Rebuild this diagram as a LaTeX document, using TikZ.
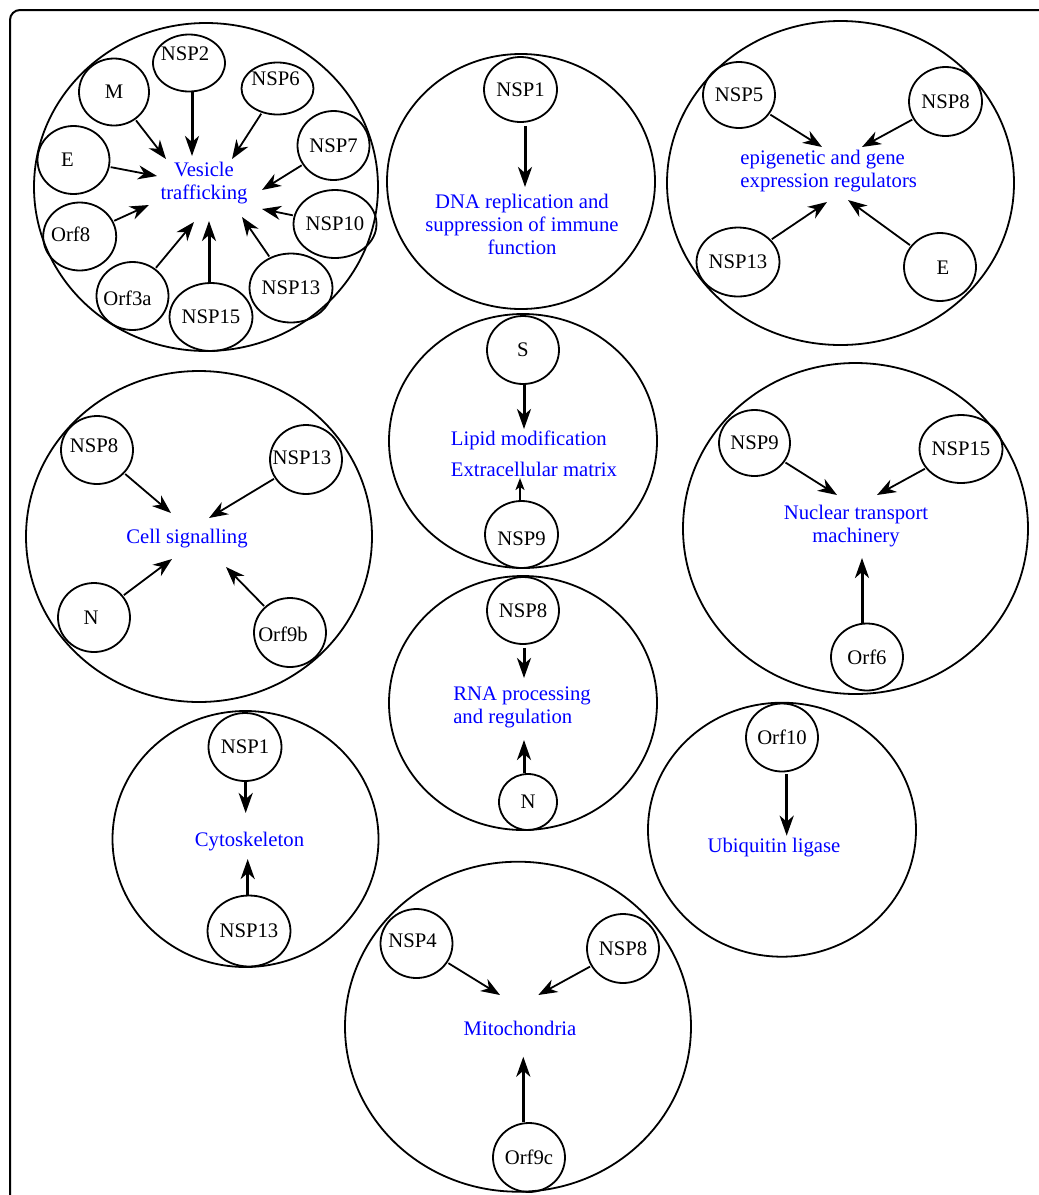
\documentclass[tikz,border=0pt]{standalone}
\usepackage{fontspec}
\setmainfont{Liberation Serif}
\usetikzlibrary{arrows.meta,shapes.geometric}
\newcommand{\myfs}{\fontsize{20.7pt}{23pt}\selectfont}
\begin{document}
\begin{tikzpicture}[x=1pt,y=-1pt,font=\myfs,
  grp/.style={draw, ellipse, line width=1.8pt, inner sep=0pt},
  prot/.style={draw, ellipse, line width=1.8pt, inner sep=0pt, minimum width=72pt, minimum height=68pt},
  lbl/.style={text=blue, inner sep=0pt},
  arr/.style={line width=1.8pt, shorten <=1pt, -{Stealth[length=19pt,width=14pt,inset=6pt]}},
  barr/.style={line width=3pt, -{Stealth[length=20pt,width=14pt,inset=6pt]}},
  sarr/.style={line width=1.8pt, -{Stealth[length=12pt,width=9pt,inset=3pt]}},
]
\useasboundingbox (0,0) rectangle (1039,1195);
\draw[line width=2pt, rounded corners=10pt] (10,1210) -- (10,10) -- (1060,10);

% ---------- Vesicle trafficking
\node[grp, minimum width=344pt, minimum height=328pt] (g1) at (206,187) {};
\node[prot, minimum width=70pt, minimum height=67pt] (m) at (114,92) {M};
\node[prot, minimum height=57pt, label={[shift={(-4,-9)}]center:NSP2}] (nsp2) at (189,63) {};
\node[prot, minimum height=52pt, label={[shift={(-2,-10)}]center:NSP6}] (nsp6) at (277.5,88.5) {};
\node[prot, minimum height=69pt] (nsp7) at (333.5,145.5) {NSP7};
\node[prot, label={[shift={(-6,0)}]center:E}] (e1) at (73.5,160) {};
\node[prot, minimum width=73pt, label={[shift={(-9,-2)}]center:Orf8}] (orf8) at (79.7,236.5) {};
\node[prot] (nsp10) at (335,224) {NSP10};
\node[prot, minimum width=71pt, minimum height=69pt] (nsp13a) at (291,288) {NSP13};
\node[prot, label={[shift={(-5,2)}]center:Orf3a}] (orf3a) at (132.5,296) {};
\node[prot] (nsp15a) at (211,317) {NSP15};
\node[lbl, align=center] (l1) at (204,183) {Vesicle\\trafficking};
\coordinate (tA2) at (192,156);
\coordinate (tAm) at (166,159);
\coordinate (tA6) at (232,159);
\coordinate (tAe) at (157,176);
\coordinate (tA7) at (262,190);
\coordinate (tA8) at (149,205);
\coordinate (tA10) at (262,209);
\coordinate (tA3a) at (194,222);
\coordinate (tA15) at (209,221);
\coordinate (tA13) at (242,217);
\draw[barr] (tA2 |- nsp2.south) -- (tA2);
\draw[arr] (m) -- (tAm);
\draw[arr] (nsp6) -- (tA6);
\draw[arr] (e1) -- (tAe);
\draw[arr] (nsp7) -- (tA7);
\draw[arr] (orf8) -- (tA8);
\draw[arr] (nsp10) -- (tA10);
\draw[arr] (orf3a) -- (tA3a);
\draw[barr] (tA15 |- nsp15a.north) -- (tA15);
\draw[arr] (nsp13a) -- (tA13);

% ---------- DNA replication
\node[grp, minimum width=268pt, minimum height=255pt] (g2) at (521,181.5) {};
\node[prot, minimum width=73pt, minimum height=65pt] (nsp1a) at (520.5,89.5) {NSP1};
\node[lbl, align=center] (l2) at (522,224) {DNA replication and\\suppression of immune\\function};
\coordinate (tB) at (525,187);
\draw[barr, shorten <=3pt] (tB |- nsp1a.south) -- (tB);

% ---------- epigenetic
\node[grp, minimum width=347pt, minimum height=324pt] (g3) at (840.5,183) {};
\node[prot, minimum height=66pt] (nsp5) at (739,95) {NSP5};
\node[prot, minimum width=73pt, minimum height=69pt] (nsp8a) at (945.5,101.5) {NSP8};
\node[prot, minimum height=69pt] (nsp13b) at (738,262) {NSP13};
\node[prot, label={[shift={(3,1)}]center:E}] (e2) at (940,267) {};
\node[lbl, align=left] (l3) at (828.7,171.5) {epigenetic and gene\\expression regulators};
\coordinate (tC5) at (822,147);
\coordinate (tC8) at (862,147);
\coordinate (tC13) at (827,202);
\coordinate (tCe) at (848,200);
\draw[arr] (nsp5) -- (tC5);
\draw[arr] (nsp8a) -- (tC8);
\draw[arr] (nsp13b) -- (tC13);
\draw[arr] (e2) -- (tCe);

% ---------- Cell signalling
\node[grp, minimum width=346pt, minimum height=331pt] (g4) at (199,536.5) {};
\node[prot, label={[shift={(-3,-4)}]center:NSP8}] (nsp8b) at (97,450) {};
\node[prot, minimum height=69pt, label={[shift={(-4,-2)}]center:NSP13}] (nsp13c) at (306,459.5) {};
\node[prot, minimum height=69pt, label={[shift={(-3,0)}]center:N}] (n1) at (94,617.5) {};
\node[prot, minimum height=69pt, label={[shift={(-7,1.5)}]center:Orf9b}] (orf9b) at (290,632.5) {};
\node[lbl] (l4) at (187,539) {Cell signalling};
\coordinate (tD8) at (171,513);
\coordinate (tD13) at (209,518);
\coordinate (tDn) at (172,559);
\coordinate (tD9b) at (226,567);
\draw[arr] (nsp8b) -- (tD8);
\draw[arr] (nsp13c) -- (tD13);
\draw[arr] (n1) -- (tDn);
\draw[arr] (orf9b) -- (tD9b);

% ---------- Lipid modification
\node[grp, minimum width=268pt, minimum height=254pt] (g5) at (523,441) {};
\node[prot] (s1) at (523,350) {S};
\node[prot, minimum width=73pt, minimum height=67pt, label={[shift={(0,4)}]center:NSP9}] (nsp9a) at (521.5,534.5) {};
\node[lbl, align=left] (l5) at (534,453.5) {Lipid modification\\[8pt]Extracellular matrix};
\coordinate (tE1) at (524,429);
\coordinate (tE2) at (520,478);
\draw[barr] (tE1 |- s1.south) -- (tE1);
\draw[sarr] (tE2 |- nsp9a.north) -- (tE2);

% ---------- RNA processing
\node[grp, minimum width=268pt, minimum height=254pt] (g6) at (523,703) {};
\node[prot, minimum height=67pt] (nsp8c) at (523,610.5) {NSP8};
\node[prot, minimum width=58pt, minimum height=56pt] (n2) at (528,802) {N};
\node[lbl, align=left] (l6) at (522,707.5) {RNA processing\\and regulation};
\coordinate (tF1) at (524,678);
\coordinate (tF2) at (524,740);
\draw[barr, shorten <=3pt] (tF1 |- nsp8c.south) -- (tF1);
\draw[barr] (tF2 |- n2.north) -- (tF2);

% ---------- Nuclear transport
\node[grp, minimum width=345pt, minimum height=331pt] (g7) at (855.5,528.5) {};
\node[prot, minimum width=71pt, minimum height=66pt] (nsp9b) at (754.5,443) {NSP9};
\node[prot] (nsp15b) at (961,449) {NSP15};
\node[prot, minimum height=67pt] (orf6) at (867,657) {Orf6};
\node[lbl, align=center] (l7) at (856,526) {Nuclear transport\\machinery};
\coordinate (tG9) at (837,495);
\coordinate (tG15) at (877,495);
\coordinate (tG6) at (862,558);
\draw[arr] (nsp9b) -- (tG9);
\draw[arr] (nsp15b) -- (tG15);
\draw[barr] (tG6 |- orf6.north) -- (tG6);

% ---------- Ubiquitin ligase
\node[grp, minimum width=268pt, minimum height=254pt] (g8) at (782,829.7) {};
\node[prot] (orf10) at (782,737.5) {Orf10};
\node[lbl] (l8) at (774,847.3) {Ubiquitin ligase};
\coordinate (tH) at (786.7,835.7);
\draw[barr, shorten <=2pt] (tH |- orf10.south) -- (tH);

% ---------- Cytoskeleton
\node[grp, minimum width=266pt, minimum height=256pt] (g9) at (245.5,839) {};
\node[prot, minimum width=73pt] (nsp1b) at (245,747) {NSP1};
\node[prot, minimum width=74pt, minimum height=71pt] (nsp13d) at (249,931) {NSP13};
\node[lbl] (l9) at (249.5,841.7) {Cytoskeleton};
\coordinate (tI1) at (245.7,813);
\coordinate (tI2) at (247.7,859);
\draw[barr] (tI1 |- nsp1b.south) -- (tI1);
\draw[barr] (tI2 |- nsp13d.north) -- (tI2);

% ---------- Mitochondria
\node[grp, minimum width=346pt, minimum height=330pt] (g10) at (518,1026.7) {};
\node[prot, minimum height=69pt, label={[shift={(-4,-2.5)}]center:NSP4}] (nsp4) at (416.5,943.5) {};
\node[prot, minimum height=69pt] (nsp8d) at (623,948.5) {NSP8};
\node[prot, minimum height=69pt] (orf9c) at (529,1157.5) {Orf9c};
\node[lbl] (l10) at (520,1028) {Mitochondria};
\coordinate (tJ4) at (500,995);
\coordinate (tJ8) at (538.3,995);
\coordinate (tJ9) at (523.3,1056.7);
\draw[arr] (nsp4) -- (tJ4);
\draw[arr] (nsp8d) -- (tJ8);
\draw[barr] (tJ9 |- orf9c.north) -- (tJ9);
\end{tikzpicture}
\end{document}
